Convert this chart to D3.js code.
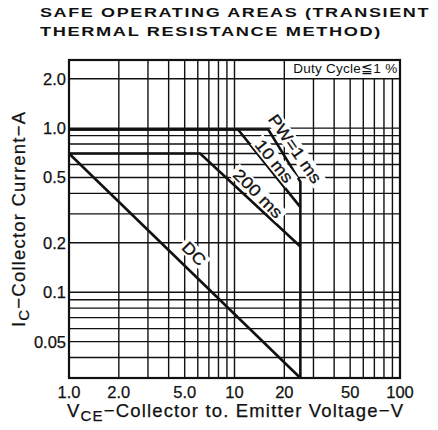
<!DOCTYPE html>
<html>
<head>
<meta charset="utf-8">
<script src="https://cdn.jsdelivr.net/npm/d3@7"></script>
<style>
  body { margin: 0; background: #fff; }
  text { font-family: "Liberation Sans", Arial, Helvetica, sans-serif; fill: #111; }
  text.title { font-weight: bold; font-size: 13.5px; letter-spacing: 1.2px; }
</style>
</head>
<body>
<svg id="chart" width="438" height="430"></svg>
<script>
// tick values and labels
const vTicks = [1, 2, 5, 10, 20, 50, 100];
const vTickLabels = ["1.0", "2.0", "5.0", "10", "20", "50", "100"];
const iTicks = [2, 1, 0.5, 0.2, 0.1, 0.05];
const iTickLabels = ["2.0", "1.0", "0.5", "0.2", "0.1", "0.05"];

// grid lines
const vGrid = [2, 3, 4, 5, 6, 7, 8, 9, 10, 20, 30, 40, 50, 60, 70, 80, 90];
const iGrid = [2, 1, 0.9, 0.8, 0.7, 0.6, 0.5, 0.4, 0.3, 0.2, 0.1, 0.09, 0.08, 0.07, 0.06, 0.05, 0.04];

// SOA curves [V, A]
const pw1ms = [[1, 0.98], [16, 0.98], [25, 0.47], [25, 0.03]];
const pw10ms = [[1, 0.98], [10.5, 0.98], [25, 0.33]];
const pw200ms = [[1, 0.7], [6.2, 0.7], [25, 0.19]];
const dc = [[1, 0.7], [25, 0.03]];

// curve labels: text, V, A, angle, length
const curveLabels = [
  { text: "PW=1 ms", v: 23.3, i: 0.75, angle: 55, len: 80 },
  { text: "10 ms", v: 17.4, i: 0.63, angle: 51, len: 50 },
  { text: "200 ms", v: 13.9, i: 0.40, angle: 45, len: 62 },
  { text: "DC", v: 5.7, i: 0.172, angle: 45, len: 26 },
];

const svg = d3.select("#chart");
const margin = { left: 69, right: 38, top: 60, bottom: 52 };
const W = 438, H = 430;

const x = d3.scaleLog().domain([1, 100]).range([margin.left, W - margin.right]);
const y = d3.scaleLog().domain([0.03, 2.6]).range([H - margin.bottom, margin.top]);

// title
svg.append("text").attr("class", "title").attr("x", 40).attr("y", 17)
  .attr("textLength", 390).attr("lengthAdjust", "spacingAndGlyphs")
  .text("SAFE OPERATING AREAS (TRANSIENT");
svg.append("text").attr("class", "title").attr("x", 40).attr("y", 36)
  .attr("textLength", 342).attr("lengthAdjust", "spacingAndGlyphs")
  .text("THERMAL RESISTANCE METHOD)");

// grid
const grid = svg.append("g").attr("stroke", "#111").attr("stroke-width", 1.4);
grid.selectAll("line.v").data(vGrid).join("line")
  .attr("x1", d => x(d)).attr("x2", d => x(d))
  .attr("y1", d => d <= 20 ? y.range()[1] : y(2))
  .attr("y2", y.range()[0]);
grid.selectAll("line.h").data(iGrid).join("line")
  .attr("y1", d => y(d)).attr("y2", d => y(d))
  .attr("x1", x.range()[0]).attr("x2", x.range()[1]);

// curves
const line = d3.line().x(d => x(d[0])).y(d => y(d[1]));
svg.append("g").attr("fill", "none").attr("stroke", "#111").attr("stroke-width", 2.6)
  .selectAll("path").data([pw1ms, pw10ms, pw200ms, dc]).join("path")
  .attr("d", line);

// curve labels with white backing
const lab = svg.append("g").selectAll("g").data(curveLabels).join("g")
  .attr("transform", d => `translate(${x(d.v)},${y(d.i)}) rotate(${d.angle})`);
lab.append("rect")
  .attr("x", d => -d.len / 2 - 3).attr("y", -8)
  .attr("width", d => d.len + 6).attr("height", 16)
  .attr("fill", "#fff");
lab.append("text")
  .attr("text-anchor", "middle").attr("dy", "0.36em")
  .attr("font-size", 16.5)
  .attr("stroke", "#111").attr("stroke-width", 0.3)
  .attr("textLength", d => d.len).attr("lengthAdjust", "spacingAndGlyphs")
  .text(d => d.text);

// frame
svg.append("rect")
  .attr("x", x.range()[0]).attr("y", y.range()[1])
  .attr("width", x.range()[1] - x.range()[0])
  .attr("height", y.range()[0] - y.range()[1])
  .attr("fill", "none").attr("stroke", "#111").attr("stroke-width", 2.2);

// duty cycle note
svg.append("text")
  .attr("x", (x(20) + x(100)) / 2 + 3).attr("y", 72.5)
  .attr("text-anchor", "middle").attr("font-size", 13.5)
  .attr("textLength", 104).attr("lengthAdjust", "spacing")
  .text("Duty Cycle\u22661 %");

// tick labels
svg.append("g").selectAll("text").data(vTicks).join("text")
  .attr("x", d => x(d)).attr("y", 398)
  .attr("text-anchor", "middle").attr("font-size", 16.5)
  .attr("stroke", "#111").attr("stroke-width", 0.25)
  .text((d, i) => vTickLabels[i]);
svg.append("g").selectAll("text").data(iTicks).join("text")
  .attr("x", 66).attr("y", d => y(d)).attr("dy", "0.36em")
  .attr("text-anchor", "end").attr("font-size", 16.5)
  .attr("stroke", "#111").attr("stroke-width", 0.25)
  .text((d, i) => iTickLabels[i]);

// axis titles
const xt = svg.append("text").attr("x", 67).attr("y", 417).attr("font-size", 18.5)
  .attr("stroke", "#111").attr("stroke-width", 0.25)
  .attr("textLength", 336).attr("lengthAdjust", "spacing");
xt.append("tspan").text("V");
xt.append("tspan").attr("dy", 4).attr("font-size", 15).text("CE");
xt.append("tspan").attr("dy", -4).text("\u2212Collector to. Emitter Voltage\u2212V");

const yt = svg.append("text").attr("transform", "translate(25,327) rotate(-90)")
  .attr("font-size", 18.5)
  .attr("stroke", "#111").attr("stroke-width", 0.25)
  .attr("textLength", 215).attr("lengthAdjust", "spacing");
yt.append("tspan").text("I");
yt.append("tspan").attr("dy", 4).attr("font-size", 15).text("C");
yt.append("tspan").attr("dy", -4).text("\u2212Collector Current\u2212A");
</script>
</body>
</html>
